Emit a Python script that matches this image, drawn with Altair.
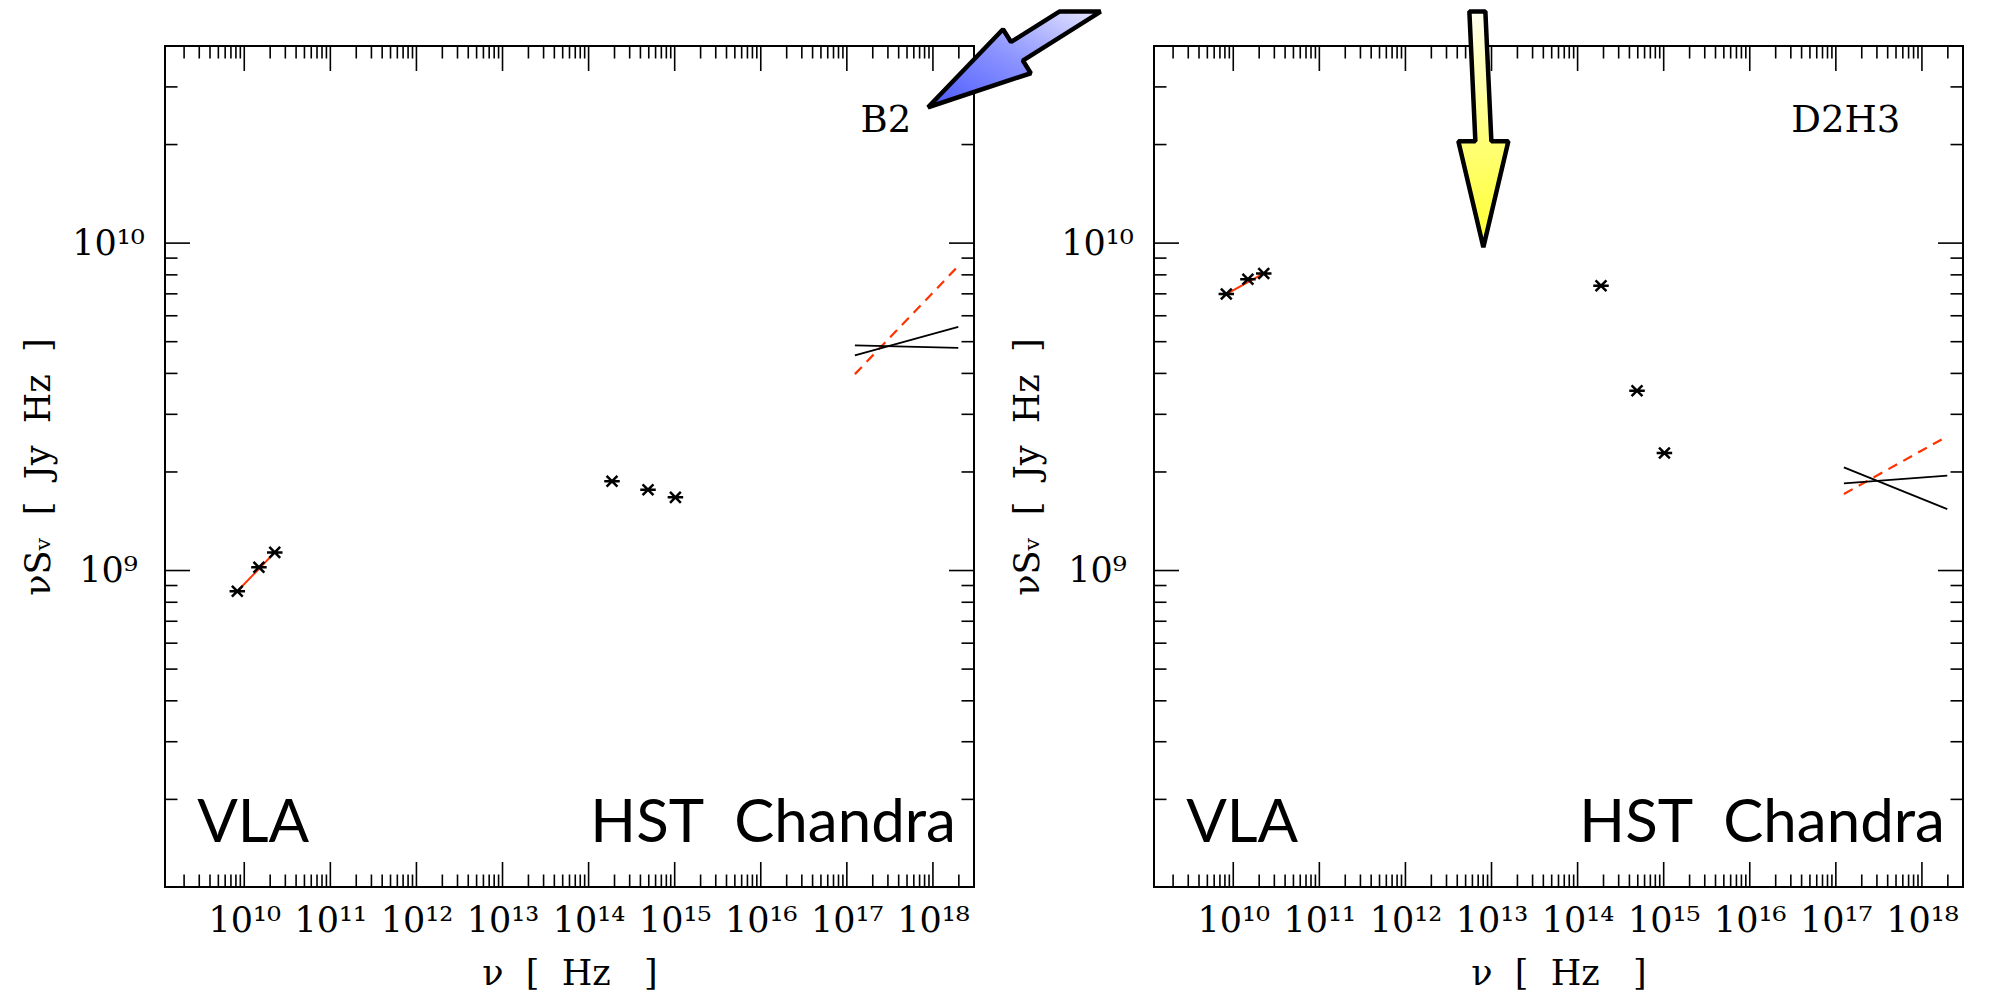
import altair as alt
import pandas as pd

# ---------------- data ----------------
VLA_NU = [8.3e9, 1.48e10, 2.26e10]
HST_NU = [1.87e14, 4.9e14, 1.02e15]
XRAY_NU = [1.24e17, 1.97e18]

B2_VLA = [8.64e8, 1.023e9, 1.136e9]
B2_HST = [1.873e9, 1.765e9, 1.673e9]
B2_BOW_1 = [4.54e9, 5.55e9]
B2_BOW_2 = [4.87e9, 4.79e9]
B2_RADIO_SLOPE = [3.98e9, 8.51e9]

D2H3_VLA = [6.99e9, 7.76e9, 8.08e9]
D2H3_HST = [7.41e9, 3.54e9, 2.285e9]
D2H3_BOW_1 = [2.066e9, 1.541e9]
D2H3_BOW_2 = [1.846e9, 1.948e9]
D2H3_RADIO_SLOPE = [1.713e9, 2.57e9]

PANEL_NAMES = ["B2", "D2H3"]
NAME_NU = [5.6e17]
NAME_S = [2.18e10]

INSTRUMENTS = ["VLA", "HST", "Chandra"]
INSTR_NU = [1.27e10, 4.8e14, 1.85e18]
INSTR_S = [1.48e8, 1.48e8, 1.48e8]

# arrow tips (annotation), in data coordinates of their panel
BLUE_TIP = [8.77e17, 2.6e10]
YELLOW_TIP = [8.04e12, 9.72e9]

X_DOMAIN = [1.2e9, 3.0e18]
Y_DOMAIN = [1.08e8, 4.0e10]
X_DECADES = [1e10, 1e11, 1e12, 1e13, 1e14, 1e15, 1e16, 1e17, 1e18]
X_TICK_LABELS = ["10¹⁰", "10¹¹", "10¹²", "10¹³", "10¹⁴", "10¹⁵", "10¹⁶", "10¹⁷", "10¹⁸"]
Y_DECADES = [1e9, 1e10]
Y_TICK_LABELS = ["10⁹", "10¹⁰"]
MINOR_MULT = [2, 3, 4, 5, 6, 7, 8, 9]
X_MINOR_BASES = [1e9, 1e10, 1e11, 1e12, 1e13, 1e14, 1e15, 1e16, 1e17, 1e18]
Y_MINOR_BASES = [1e8, 1e9, 1e10]

NB = "\u00a0"
X_TITLE = "ν" + NB * 2 + "[" + NB * 2 + "Hz" + NB * 3 + "]"
Y_TITLE = "νSᵥ" + NB * 2 + "[" + NB * 2 + "Jy" + NB * 2 + "Hz" + NB * 2 + "]"

# ---------------- styling ----------------
W, H = 809, 841
MAJOR, MINOR = 25, 12.5
RED = "#ff3300"
SERIF = "DejaVu Serif"
STAR = "M-1,0L1,0M-0.7,-0.7L0.7,0.7M-0.7,0.7L0.7,-0.7"
BLUE_ARROW = "M0,0L102.8,-34L94.8,-46.7L172.6,-95.7L131.3,-95.7L83,-65.3L75,-78Z"
YELLOW_ARROW = "M0,0L25,-106L8,-106L2,-235.7L-14,-235.7L-8,-106L-25,-106Z"

x_minor = [m * b for b in X_MINOR_BASES for m in MINOR_MULT if X_DOMAIN[0] < m * b < X_DOMAIN[1]]
y_minor = [m * b for b in Y_MINOR_BASES for m in MINOR_MULT if Y_DOMAIN[0] < m * b < Y_DOMAIN[1]]

xs = alt.Scale(type="log", domain=X_DOMAIN, nice=False)
ys = alt.Scale(type="log", domain=Y_DOMAIN, nice=False)


def lab_expr(labels, offset):
    arr = "[" + ",".join("'" + l + "'" for l in labels) + "]"
    return arr + "[round(log(datum.value)/LN10) - " + str(offset) + "]"


x_axis = alt.Axis(values=X_DECADES, labelExpr=lab_expr(X_TICK_LABELS, 10), title=X_TITLE,
                  grid=False, domain=False, ticks=False, tickSize=0, labelPadding=44,
                  labelBaseline="alphabetic", labelOverlap=False, labelFlush=False,
                  titleBaseline="alphabetic", titleX=W / 2, titleY=97)
y_axis = alt.Axis(values=Y_DECADES, labelExpr=lab_expr(Y_TICK_LABELS, 9), title=Y_TITLE,
                  grid=False, domain=False, ticks=False, tickSize=0, labelPadding=57,
                  labelAlign="center", labelBaseline="middle", labelOverlap=False,
                  labelFlush=False, titleBaseline="alphabetic", titleX=-116, titleY=H / 2)

XN = lambda: alt.X("nu:Q", scale=xs, axis=x_axis)
YN = lambda: alt.Y("s:Q", scale=ys, axis=y_axis)


def x_ticks(vals, L):
    df = pd.DataFrame({"nu": vals})
    base = alt.Chart(df).mark_rule(color="black", strokeWidth=1.6)
    return [base.encode(x=XN(), y=alt.value(0), y2=alt.value(L)),
            base.encode(x=XN(), y=alt.value(H), y2=alt.value(H - L))]


def y_ticks(vals, L):
    df = pd.DataFrame({"s": vals})
    base = alt.Chart(df).mark_rule(color="black", strokeWidth=1.6)
    return [base.encode(y=YN(), x=alt.value(0), x2=alt.value(L)),
            base.encode(y=YN(), x=alt.value(W), x2=alt.value(W - L))]


def panel(name, vla, hst, bow1, bow2, slope, arrow_tip, arrow_path, arrow_grad):
    pts = pd.DataFrame({"nu": VLA_NU + HST_NU, "s": vla + hst})
    points = alt.Chart(pts).mark_point(shape=STAR, size=240, filled=False, color="black",
                                       strokeWidth=2.5, opacity=1).encode(x=XN(), y=YN())
    fit = pd.DataFrame({"nu": [VLA_NU[0], VLA_NU[-1]], "s": [vla[0], vla[-1]]})
    fit_line = alt.Chart(fit).mark_line(color=RED, strokeWidth=2).encode(x=XN(), y=YN())
    dash = pd.DataFrame({"nu": XRAY_NU, "s": slope})
    dash_line = alt.Chart(dash).mark_line(color=RED, strokeWidth=2.2, strokeDash=[10, 7]).encode(
        x=XN(), y=YN())
    bow = pd.DataFrame({"nu": XRAY_NU + XRAY_NU, "s": bow1 + bow2, "k": ["a", "a", "b", "b"]})
    bow_lines = alt.Chart(bow).mark_line(color="black", strokeWidth=1.8).encode(
        x=XN(), y=YN(), detail="k:N")
    name_df = pd.DataFrame({"nu": NAME_NU, "s": NAME_S, "t": [name]})
    name_txt = alt.Chart(name_df).mark_text(font=SERIF, fontSize=37, align="right",
                                            baseline="alphabetic", color="black").encode(
        x=XN(), y=YN(), text="t:N")
    ins = pd.DataFrame({"nu": INSTR_NU, "s": INSTR_S, "t": INSTRUMENTS})
    ins_c = alt.Chart(ins).transform_filter("datum.t != 'Chandra'").mark_text(
        font="Lato", fontSize=60, align="center", baseline="alphabetic", color="black").encode(
        x=XN(), y=YN(), text="t:N")
    ins_r = alt.Chart(ins).transform_filter("datum.t == 'Chandra'").mark_text(
        font="Lato", fontSize=60, align="right", baseline="alphabetic", color="black").encode(
        x=XN(), y=YN(), text="t:N")
    tip = pd.DataFrame({"nu": [arrow_tip[0]], "s": [arrow_tip[1]]})
    arrow = alt.Chart(tip).mark_point(shape=arrow_path, size=4, filled=True, fill=arrow_grad,
                                      stroke="black", strokeWidth=4.5, strokeJoin="bevel",
                                      opacity=1, fillOpacity=1).encode(x=XN(), y=YN())
    layers = x_ticks(X_DECADES, MAJOR) + x_ticks(x_minor, MINOR) + \
        y_ticks(Y_DECADES, MAJOR) + y_ticks(y_minor, MINOR) + \
        [fit_line, dash_line, bow_lines, points, name_txt, ins_c, ins_r, arrow]
    return alt.layer(*layers).properties(width=W, height=H)


blue = alt.LinearGradient(gradient="linear", x1=1, y1=0, x2=0, y2=1, stops=[
    alt.GradientStop(color="#e6e6ff", offset=0), alt.GradientStop(color="#8c94ff", offset=0.5),
    alt.GradientStop(color="#4a5aff", offset=1)])
yellow = alt.LinearGradient(gradient="linear", x1=0, y1=0, x2=0, y2=1, stops=[
    alt.GradientStop(color="#fffff2", offset=0), alt.GradientStop(color="#ffff80", offset=0.5),
    alt.GradientStop(color="#ffff30", offset=1)])

p1 = panel(PANEL_NAMES[0], B2_VLA, B2_HST, B2_BOW_1, B2_BOW_2, B2_RADIO_SLOPE,
           BLUE_TIP, BLUE_ARROW, blue)
p2 = panel(PANEL_NAMES[1], D2H3_VLA, D2H3_HST, D2H3_BOW_1, D2H3_BOW_2, D2H3_RADIO_SLOPE,
           YELLOW_TIP, YELLOW_ARROW, yellow)

chart = alt.hconcat(p1, p2, spacing=180, bounds="flush").properties(
    padding={"left": 12, "top": 0, "right": 5, "bottom": 5}
).configure_view(stroke="black", strokeWidth=2).configure_axis(
    labelFont=SERIF, labelFontSize=35, labelColor="black",
    titleFont=SERIF, titleFontSize=35, titleFontWeight="normal", titleColor="black"
)

chart.save("out.html", embed_options={"renderer": "svg", "actions": False})
